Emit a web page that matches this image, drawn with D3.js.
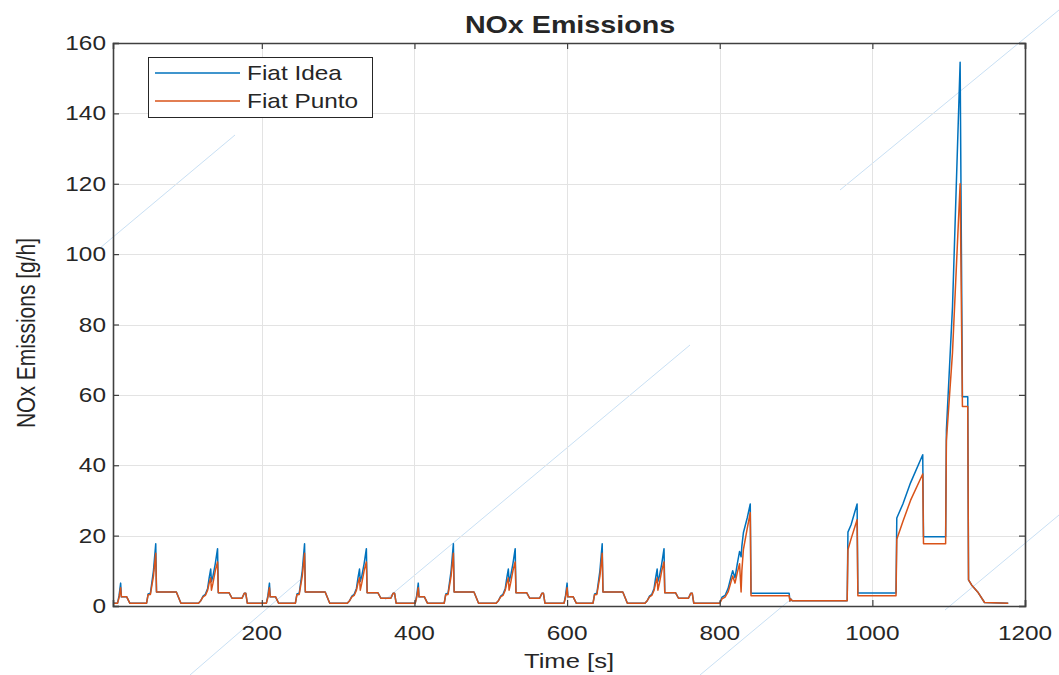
<!DOCTYPE html>
<html>
<head>
<meta charset="utf-8">
<script src="https://cdn.jsdelivr.net/npm/d3@7"></script>
<style>
  html, body { margin: 0; padding: 0; background: #ffffff; }
  svg { display: block; }
</style>
</head>
<body>
<svg id="chart" width="1059" height="675"></svg>
<script>
// ---------------- DATA ----------------
const seriesNames = ["Fiat Idea", "Fiat Punto"];
const xTicks = [200, 400, 600, 800, 1000, 1200];
const yTicks = [0, 20, 40, 60, 80, 100, 120, 140, 160];

const time = [
  5, 11, 13, 15, 16, 23, 27, 49, 51, 54, 58, 61, 62, 88, 94, 117, 120, 123, 126, 129, 131, 133, 134, 136, 139, 142, 143, 157, 161, 174, 177, 179, 181,
  206, 208, 210, 211, 218, 222, 244, 246, 249, 253, 256, 257, 283, 289, 312, 315, 318, 321, 324, 326, 328, 329, 331, 334, 337, 338, 352, 356, 369, 372, 374, 376,
  401, 403, 405, 406, 413, 417, 439, 441, 444, 448, 451, 452, 478, 484, 507, 510, 513, 516, 519, 521, 523, 524, 526, 529, 532, 533, 547, 551, 564, 567, 569, 571,
  596, 598, 600, 601, 608, 612, 634, 636, 639, 643, 646, 647, 673, 679, 702, 705, 708, 711, 714, 716, 718, 719, 721, 724, 727, 728, 742, 746, 759, 762, 764, 766,
  800, 803, 807, 811, 815, 817, 820, 823, 826, 828, 829, 831, 836, 840, 841, 891, 892, 893, 895, 967, 968, 972, 980, 981, 1031, 1032, 1040, 1050, 1066, 1067,
  1096, 1097, 1105, 1115, 1118, 1125, 1126, 1130, 1138, 1147, 1178
];

const fiatIdea = [
  0.8, 0.8, 3.0, 6.5, 2.6, 2.6, 0.8, 0.8, 3.4, 3.6, 10.0, 17.7, 4.0, 4.0, 0.8, 0.8, 1.5, 2.8, 3.3, 5.0, 8.0, 10.5, 7.0, 8.5, 12.0, 16.3, 3.8, 3.8, 2.2, 2.2, 3.6, 3.6, 0.8,
  0.8, 3.0, 6.5, 2.6, 2.6, 0.8, 0.8, 3.4, 3.6, 10.0, 17.7, 4.0, 4.0, 0.8, 0.8, 1.5, 2.8, 3.3, 5.0, 8.0, 10.5, 7.0, 8.5, 12.0, 16.3, 3.8, 3.8, 2.2, 2.2, 3.6, 3.6, 0.8,
  0.8, 3.0, 6.5, 2.6, 2.6, 0.8, 0.8, 3.4, 3.6, 10.0, 17.7, 4.0, 4.0, 0.8, 0.8, 1.5, 2.8, 3.3, 5.0, 8.0, 10.5, 7.0, 8.5, 12.0, 16.3, 3.8, 3.8, 2.2, 2.2, 3.6, 3.6, 0.8,
  0.8, 3.0, 6.5, 2.6, 2.6, 0.8, 0.8, 3.4, 3.6, 10.0, 17.7, 4.0, 4.0, 0.8, 0.8, 1.5, 2.8, 3.3, 5.0, 8.0, 10.5, 7.0, 8.5, 12.0, 16.3, 3.8, 3.8, 2.2, 2.2, 3.6, 3.6, 0.8,
  0.8, 2.5, 3.0, 5.0, 8.5, 10.0, 8.0, 12.0, 15.5, 14.0, 17.0, 20.8, 25.0, 29.0, 3.6, 3.6, 1.4, 2.0, 1.5, 1.5, 21.0, 23.0, 29.0, 3.7, 3.7, 25.0, 29.0, 35.0, 43.0, 19.7,
  19.7, 50.0, 85.0, 154.5, 59.5, 59.5, 7.4, 6.0, 4.0, 1.0, 0.8
];

const fiatPunto = [
  0.8, 0.8, 2.5, 5.2, 2.6, 2.6, 0.8, 0.8, 3.2, 3.3, 8.5, 15.0, 4.0, 4.0, 0.8, 0.8, 1.5, 2.6, 3.0, 4.5, 6.5, 8.0, 4.5, 6.5, 10.0, 12.5, 3.8, 3.8, 2.2, 2.2, 3.6, 3.6, 0.8,
  0.8, 2.5, 5.2, 2.6, 2.6, 0.8, 0.8, 3.2, 3.3, 8.5, 15.0, 4.0, 4.0, 0.8, 0.8, 1.5, 2.6, 3.0, 4.5, 6.5, 8.0, 4.5, 6.5, 10.0, 12.5, 3.8, 3.8, 2.2, 2.2, 3.6, 3.6, 0.8,
  0.8, 2.5, 5.2, 2.6, 2.6, 0.8, 0.8, 3.2, 3.3, 8.5, 15.0, 4.0, 4.0, 0.8, 0.8, 1.5, 2.6, 3.0, 4.5, 6.5, 8.0, 4.5, 6.5, 10.0, 12.5, 3.8, 3.8, 2.2, 2.2, 3.6, 3.6, 0.8,
  0.8, 2.5, 5.2, 2.6, 2.6, 0.8, 0.8, 3.2, 3.3, 8.5, 15.0, 4.0, 4.0, 0.8, 0.8, 1.5, 2.6, 3.0, 4.5, 6.5, 8.0, 4.5, 6.5, 10.0, 12.5, 3.8, 3.8, 2.2, 2.2, 3.6, 3.6, 0.8,
  0.8, 2.0, 2.5, 4.0, 7.0, 8.5, 6.5, 9.5, 12.0, 4.0, 10.0, 16.0, 22.0, 26.5, 2.9, 2.9, 1.4, 2.0, 1.5, 1.5, 16.0, 19.0, 24.5, 2.9, 2.9, 19.0, 24.0, 30.0, 37.5, 17.7,
  17.7, 47.0, 72.0, 120.0, 56.7, 56.7, 7.4, 6.0, 4.0, 1.0, 0.8
];

const colors = ["#0072BD", "#D95319"];

// ---------------- CHART ----------------
const svg = d3.select("#chart");
const W = 1059, H = 675;
const m = { left: 113, right: 1025, top: 43, bottom: 606 };
const SX = 1.22; // horizontal stretch of text seen in the reference

const x = d3.scaleLinear().domain([5, 1200]).range([m.left, m.right]);
const y = d3.scaleLinear().domain([0, 160]).range([m.bottom, m.top]);

svg.append("rect").attr("width", W).attr("height", H).attr("fill", "#ffffff");

// faint watermark lines
const wm = svg.append("g").attr("stroke", "#bcd9f2").attr("stroke-width", 1).attr("opacity", 0.8);
[[840, 190, 1059, 10], [385, 600, 690, 345], [100, 248, 235, 135], [945, 610, 1059, 515], [190, 675, 300, 580], [700, 675, 790, 600]]
  .forEach(d => wm.append("line").attr("x1", d[0]).attr("y1", d[1]).attr("x2", d[2]).attr("y2", d[3]));

function txt(g, str, tx, ty, size, anchor, weight, rot) {
  const t = g.append("text")
    .attr("transform", `translate(${tx},${ty})` + (rot ? ` rotate(${rot})` : "") + (rot ? ` scale(1,${SX})` : ` scale(${SX},1)`))
    .attr("text-anchor", anchor)
    .attr("font-family", "Liberation Sans, Arial, sans-serif")
    .attr("font-size", size)
    .attr("font-weight", weight || "normal")
    .attr("fill", "#262626")
    .text(str);
  return t;
}

// grid
const grid = svg.append("g").attr("stroke", "#e3e3e3").attr("stroke-width", 1);
xTicks.forEach(v => grid.append("line").attr("x1", Math.round(x(v)) + 0.5).attr("x2", Math.round(x(v)) + 0.5).attr("y1", m.top).attr("y2", m.bottom));
yTicks.forEach(v => grid.append("line").attr("y1", Math.round(y(v)) + 0.5).attr("y2", Math.round(y(v)) + 0.5).attr("x1", m.left).attr("x2", m.right));

// lines
const series = [fiatIdea, fiatPunto];
series.forEach((vals, k) => {
  const line = d3.line().x((d, i) => x(time[i])).y(d => y(d));
  svg.append("path")
    .datum(vals)
    .attr("d", line)
    .attr("fill", "none")
    .attr("stroke", colors[k])
    .attr("stroke-width", 1.5)
    .attr("stroke-linejoin", "round");
});

// axes (MATLAB style box, ticks inward)
const axB = d3.axisBottom(x).tickValues(xTicks).tickSize(-6).tickFormat("");
const axT = d3.axisTop(x).tickValues(xTicks).tickSize(-6).tickFormat("");
const axL = d3.axisLeft(y).tickValues(yTicks).tickSize(-6).tickFormat("");
const axR = d3.axisRight(y).tickValues(yTicks).tickSize(-6).tickFormat("");
[[axB, `translate(0,${m.bottom})`], [axT, `translate(0,${m.top})`], [axL, `translate(${m.left},0)`], [axR, `translate(${m.right},0)`]]
  .forEach(([ax, tr]) => {
    const g = svg.append("g").attr("transform", tr).call(ax);
    g.select(".domain").attr("stroke", "#404040").attr("stroke-width", 1.6);
    g.selectAll(".tick line").attr("stroke", "#404040").attr("stroke-width", 1.2);
  });

// tick labels
const lab = svg.append("g");
xTicks.forEach(v => txt(lab, String(v), x(v), 640, 20, "middle"));
yTicks.forEach(v => txt(lab, String(v), 106, y(v) + 7, 20, "end"));

// title & axis labels
txt(svg, "NOx Emissions", 570, 33, 23.5, "middle", "bold");
txt(svg, "Time [s]", 569, 668, 21, "middle");
txt(svg, "NOx Emissions [g/h]", 35, 333, 21, "middle", "normal", -90);

// legend
const lg = svg.append("g");
lg.append("rect").attr("x", 148.5).attr("y", 57.5).attr("width", 224).attr("height", 60)
  .attr("fill", "#ffffff").attr("stroke", "#262626").attr("stroke-width", 1);
seriesNames.forEach((nm, i) => {
  const yy = 73 + i * 28;
  lg.append("line").attr("x1", 155).attr("x2", 240).attr("y1", yy).attr("y2", yy)
    .attr("stroke", colors[i]).attr("stroke-width", 1.5);
  txt(lg, nm, 247, yy + 7, 20, "start");
});
</script>
</body>
</html>
